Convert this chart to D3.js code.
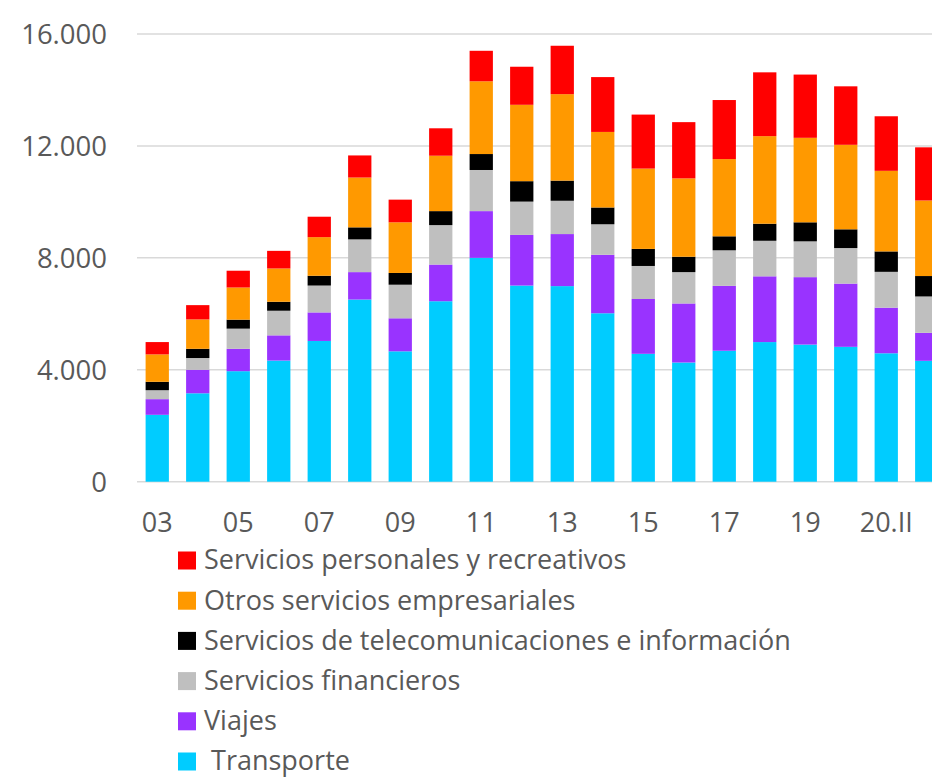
<!DOCTYPE html>
<html>
<head>
<meta charset="utf-8">
<script src="https://cdn.jsdelivr.net/npm/d3@7"></script>
<style>
  html, body { margin: 0; padding: 0; background: #fff; overflow: hidden; }
  svg { display: block; }
  text { font-family: "Open Sans", "Noto Sans", sans-serif; fill: #595959; }
</style>
</head>
<body>
<svg id="chart" width="932" height="779"></svg>
<script>
// ---- Data ----
const categories = ["03","04","05","06","07","08","09","10","11","12","13","14","15","16","17","18","19","20.I","20.II","20.III"];
const tickLabels = ["03","05","07","09","11","13","15","17","19","20.II"];
const yTicks = [0, 4000, 8000, 12000, 16000];

const transporte   = [2390,3160,3950,4330,5030,6510,4660,6450,8000,7010,6990,6020,4570,4260,4680,4990,4900,4820,4590,4320];
const viajes       = [ 560, 840, 800, 900,1020, 980,1180,1310,1670,1810,1860,2090,1960,2110,2320,2350,2410,2260,1630,1000];
const financieros  = [ 320, 420, 720, 880, 960,1170,1200,1410,1470,1190,1190,1090,1180,1120,1270,1270,1280,1270,1280,1300];
const telecom      = [ 300, 330, 320, 320, 350, 430, 420, 500, 570, 730, 720, 600, 610, 550, 500, 610, 680, 670, 730, 730];
const otros        = [ 980,1050,1150,1190,1380,1780,1810,1980,2600,2730,3090,2700,2870,2800,2760,3130,3020,3020,2880,2700];
const personales   = [ 440, 510, 600, 630, 730, 790, 810, 980,1090,1360,1730,1960,1930,2010,2110,2280,2260,2090,1950,1900];

const seriesNames  = ["Transporte","Viajes","Servicios financieros","Servicios de telecomunicaciones e información","Otros servicios empresariales","Servicios personales y recreativos"];
const legendLabels = ["Servicios personales y recreativos","Otros servicios empresariales","Servicios de telecomunicaciones e información","Servicios financieros","Viajes"," Transporte"];
const seriesColors = ["#00CCFF","#9933FF","#BFBFBF","#000000","#FF9900","#FF0000"];

// ---- Build table ----
const seriesValues = [transporte, viajes, financieros, telecom, otros, personales];
const table = categories.map((c, i) => {
  const row = { cat: c };
  seriesNames.forEach((s, k) => row[s] = seriesValues[k][i]);
  return row;
});
const stacked = d3.stack().keys(seriesNames)(table);

// ---- Scales ----
const svg = d3.select("#chart");
const x = d3.scaleBand().domain(categories).range([137, 947]).paddingInner(0.425).paddingOuter(0.2125);
const y = d3.scaleLinear().domain([0, 16000]).range([481.7, 34]);
const color = d3.scaleOrdinal().domain(seriesNames).range(seriesColors);
const loc = d3.formatLocale({ decimal: ",", thousands: ".", grouping: [3], currency: ["", ""] });
const fmt = loc.format(",d");

// ---- Gridlines ----
svg.append("g").selectAll("line").data(yTicks).join("line")
  .attr("x1", 137).attr("x2", 960)
  .attr("y1", d => y(d)).attr("y2", d => y(d))
  .attr("stroke", "#d9d9d9").attr("stroke-width", 1.5);

// ---- Y axis labels ----
const yAxis = d3.axisLeft(y).tickValues(yTicks).tickFormat(fmt).tickSize(0).tickPadding(0);
const gy = svg.append("g").attr("transform", "translate(107,0)").call(yAxis);
gy.select(".domain").remove();
gy.selectAll("text").attr("font-size", 27.5).attr("fill", "#595959")
  .style("font-family", '"Open Sans", sans-serif').attr("dy", "0.35em");

// ---- Bars ----
svg.append("g").selectAll("g").data(stacked).join("g")
  .attr("fill", d => color(d.key))
  .selectAll("rect").data(d => d).join("rect")
  .attr("x", d => x(d.data.cat))
  .attr("width", x.bandwidth())
  .attr("y", d => y(d[1]))
  .attr("height", d => y(d[0]) - y(d[1]));

// ---- X axis labels ----
const xAxis = d3.axisBottom(x).tickFormat(d => tickLabels.includes(d) ? d : "").tickSize(0).tickPadding(0);
const gx = svg.append("g").attr("transform", "translate(0,523)").call(xAxis);
gx.select(".domain").remove();
gx.selectAll("text").attr("font-size", 27).attr("fill", "#595959")
  .style("font-family", '"Open Sans", sans-serif').attr("dy", "0.35em");

// ---- Legend ----
const legendColors = ["#FF0000","#FF9900","#000000","#BFBFBF","#9933FF","#00CCFF"];
const lg = svg.append("g").selectAll("g").data(legendLabels).join("g")
  .attr("transform", (d, i) => `translate(178, ${560.5 + i * 40.2})`);
lg.append("rect").attr("x", 0).attr("y", -9).attr("width", 18).attr("height", 18)
  .attr("fill", (d, i) => legendColors[i]);
lg.append("text").attr("x", 26).attr("dy", "0.33em")
  .attr("font-size", 27).style("white-space", "pre")
  .attr("xml:space", "preserve")
  .text(d => d);
</script>
</body>
</html>
